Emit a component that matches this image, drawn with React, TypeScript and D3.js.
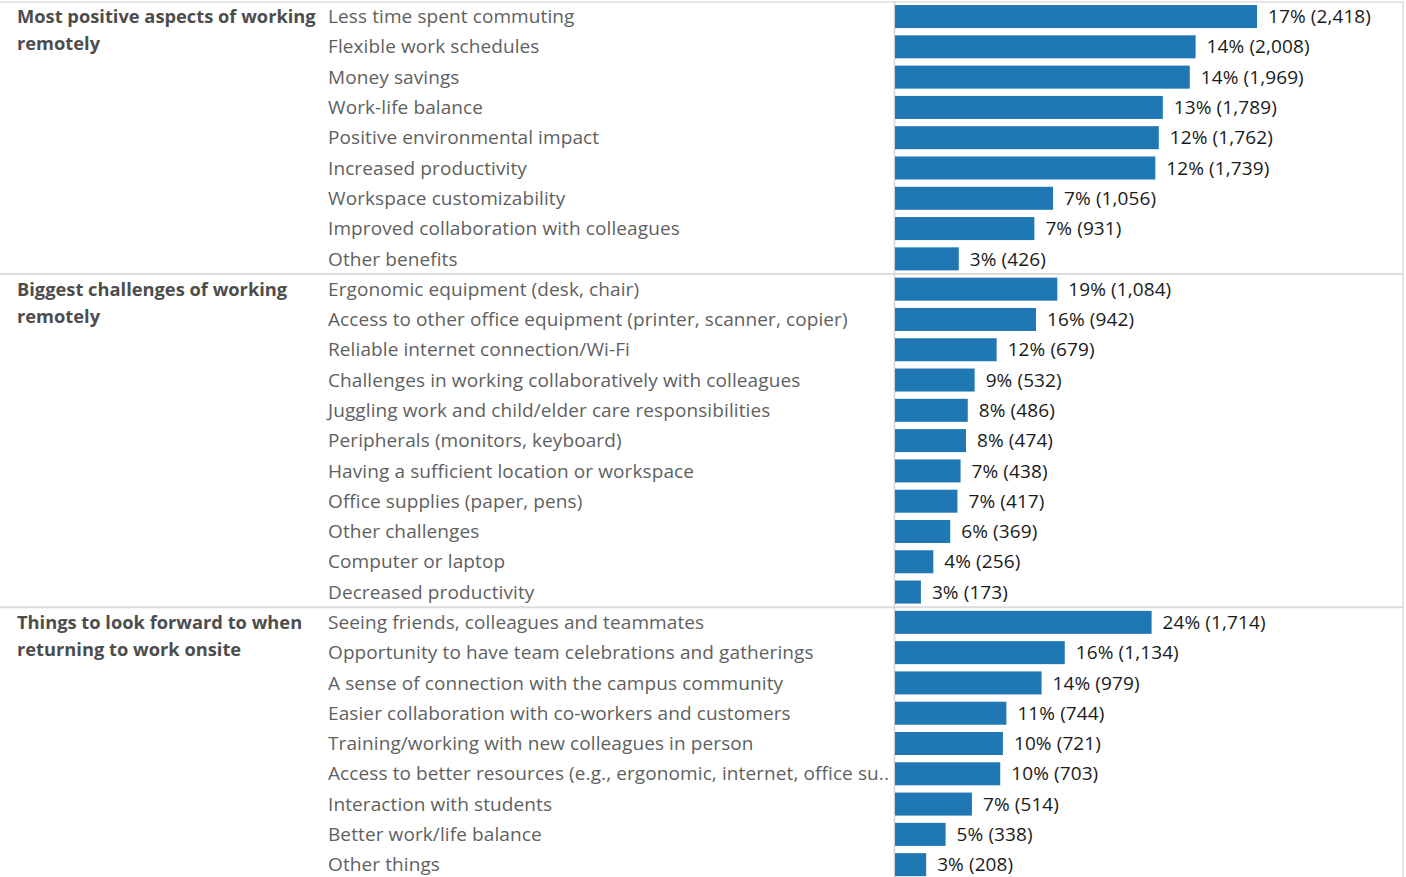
import React from "react";
import * as d3 from "d3";

// Section headings (already broken into display lines)
const sectionTitles: string[][] = [
  ["Most positive aspects of working", "remotely"],
  ["Biggest challenges of working", "remotely"],
  ["Things to look forward to when", "returning to work onsite"],
];

const positiveItems = [
  "Less time spent commuting",
  "Flexible work schedules",
  "Money savings",
  "Work-life balance",
  "Positive environmental impact",
  "Increased productivity",
  "Workspace customizability",
  "Improved collaboration with colleagues",
  "Other benefits",
];
const positiveCounts = [2418, 2008, 1969, 1789, 1762, 1739, 1056, 931, 426];
const positivePct = [17, 14, 14, 13, 12, 12, 7, 7, 3];

const challengeItems = [
  "Ergonomic equipment (desk, chair)",
  "Access to other office equipment (printer, scanner, copier)",
  "Reliable internet connection/Wi-Fi",
  "Challenges in working collaboratively with colleagues",
  "Juggling work and child/elder care responsibilities",
  "Peripherals (monitors, keyboard)",
  "Having a sufficient location or workspace",
  "Office supplies (paper, pens)",
  "Other challenges",
  "Computer or laptop",
  "Decreased productivity",
];
const challengeCounts = [1084, 942, 679, 532, 486, 474, 438, 417, 369, 256, 173];
const challengePct = [19, 16, 12, 9, 8, 8, 7, 7, 6, 4, 3];

const onsiteItems = [
  "Seeing friends, colleagues and teammates",
  "Opportunity to have team celebrations and gatherings",
  "A sense of connection with the campus community",
  "Easier collaboration with co-workers and customers",
  "Training/working with new colleagues in person",
  "Access to better resources (e.g., ergonomic, internet, office su..",
  "Interaction with students",
  "Better work/life balance",
  "Other things",
];
const onsiteCounts = [1714, 1134, 979, 744, 721, 703, 514, 338, 208];
const onsitePct = [24, 16, 14, 11, 10, 10, 7, 5, 3];

const sectionItems = [positiveItems, challengeItems, onsiteItems];
const sectionCounts = [positiveCounts, challengeCounts, onsiteCounts];
const sectionPct = [positivePct, challengePct, onsitePct];

const W = 1406;
const H = 877;
const FONT = "'Open Sans', 'Noto Sans', sans-serif";

type Row = {
  key: string;
  section: number;
  label: string;
  count: number;
  pct: number;
};

const rows: Row[] = [];
sectionItems.forEach((items, s) => {
  items.forEach((label, i) => {
    rows.push({
      key: `${s}-${i}`,
      section: s,
      label,
      count: sectionCounts[s][i],
      pct: sectionPct[s][i],
    });
  });
});

const STEP = 30.29;
const TOP = 1.4;

const y = d3
  .scaleBand<string>()
  .domain(rows.map((r) => r.key))
  .range([TOP, TOP + STEP * rows.length])
  .paddingInner(0.24)
  .paddingOuter(0.12);

const AXIS_X = 894.5;
const x = d3.scaleLinear().domain([0, 3400]).range([895, 1404]);

const fmt = d3.format(",");

export default function App() {
  // boundaries between sections
  const sectionStarts = sectionItems.map((_, s) => rows.findIndex((r) => r.section === s));
  const separatorYs = sectionStarts.slice(1).map((i) => TOP + i * STEP);

  return (
    <svg
      width={W}
      height={H}
      style={{ position: "absolute", left: 0, top: 0, background: "#fff" }}
      fontFamily={FONT}
    >
      {/* frame */}
      <line x1={0} x2={1404} y1={2} y2={2} stroke="#dcdcdc" strokeWidth={1.5} />
      {separatorYs.map((sy, i) => (
        <line key={i} x1={0} x2={1404} y1={sy} y2={sy} stroke="#dcdcdc" strokeWidth={2} />
      ))}
      <line x1={AXIS_X} x2={AXIS_X} y1={2} y2={H} stroke="#d4d4d4" strokeWidth={1.5} />
      <line x1={1403} x2={1403} y1={2} y2={H} stroke="#dcdcdc" strokeWidth={1.5} />

      {/* section headings */}
      {sectionTitles.map((lines, s) => {
        const first = rows[sectionStarts[s]].key;
        const cy = (y(first) as number) + y.bandwidth() / 2;
        return (
          <text
            key={s}
            x={17}
            y={cy}
            fontSize={18.3}
            fontWeight={700}
            fill="#4d4d4d"
          >
            {lines.map((ln, j) => (
              <tspan key={j} x={17} dy={j === 0 ? "0.35em" : 27.5}>
                {ln}
              </tspan>
            ))}
          </text>
        );
      })}

      {/* rows */}
      {rows.map((r) => {
        const top = y(r.key) as number;
        const cy = top + y.bandwidth() / 2;
        const x1 = x(r.count);
        return (
          <g key={r.key}>
            <text
              x={328}
              y={cy}
              dy="0.35em"
              fontSize={19}
              letterSpacing={0.1}
              fill="#5f5f5f"
            >
              {r.label}
            </text>
            <rect
              x={x(0)}
              y={top}
              width={x1 - x(0)}
              height={y.bandwidth()}
              fill="#1f77b4"
            />
            <text
              x={x1 + 11}
              y={cy}
              dy="0.35em"
              fontSize={19}
              letterSpacing={0.1}
              fill="#1a1a1a"
            >
              {`${r.pct}% (${fmt(r.count)})`}
            </text>
          </g>
        );
      })}
    </svg>
  );
}
